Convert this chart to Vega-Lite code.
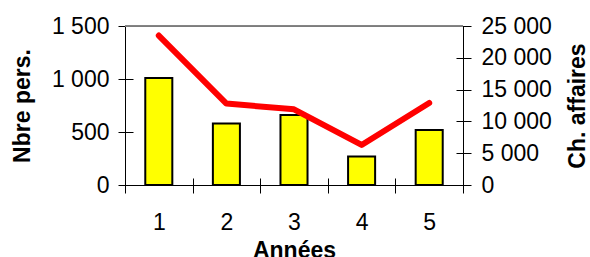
{
  "$schema": "https://vega.github.io/schema/vega-lite/v6.json",
  "width": 338,
  "height": 159,
  "autosize": "none",
  "padding": {"left": 125, "top": 26, "right": 127, "bottom": 72},
  "background": "#ffffff",
  "config": {
    "view": {"stroke": "#000000", "strokeWidth": 1},
    "font": "Liberation Sans",
    "axis": {
      "labelFont": "Liberation Sans",
      "titleFont": "Liberation Sans",
      "labelColor": "#000000",
      "titleColor": "#000000",
      "tickColor": "#000000",
      "tickWidth": 1,
      "labelFontSize": 23,
      "titleFontSize": 23,
      "titleFontWeight": "bold",
      "grid": false,
      "domain": false
    }
  },
  "data": {
    "values": [
      {"annee": "1", "pers": 1010, "ca": 23500},
      {"annee": "2", "pers": 580, "ca": 12800},
      {"annee": "3", "pers": 660, "ca": 11900},
      {"annee": "4", "pers": 270, "ca": 6300},
      {"annee": "5", "pers": 520, "ca": 12900}
    ]
  },
  "layer": [
    {
      "layer": [
        {
          "mark": {"type": "bar", "fill": "#FFFF00", "stroke": "#000000", "strokeWidth": 2, "width": {"band": 0.4}},
          "encoding": {
            "x": {
              "field": "annee", "type": "ordinal",
              "scale": {"paddingInner": 0, "paddingOuter": 0},
              "axis": {"title": "Années", "labelAngle": 0, "tickBand": "extent", "offset": -7, "tickSize": 15, "labelPadding": 18, "titlePadding": 5}
            },
            "y": {
              "field": "pers", "type": "quantitative",
              "scale": {"domain": [0, 1500], "nice": false},
              "axis": {"title": "Nbre pers.", "values": [0, 500, 1000, 1500], "offset": -8, "tickSize": 15, "labelPadding": 9, "titlePadding": 17,
                       "labelExpr": "replace(format(datum.value, ','), ',', ' ')"}
            }
          }
        },
        {
          "mark": {"type": "rule", "color": "#808080", "strokeWidth": 1},
          "encoding": {"y": {"datum": 1500, "type": "quantitative", "scale": {"domain": [0, 1500], "nice": false}}}
        }
      ]
    },
    {
      "mark": {"type": "line", "color": "#FF0000", "strokeWidth": 6, "strokeCap": "round", "strokeJoin": "round"},
      "encoding": {
        "x": {
          "field": "annee", "type": "ordinal",
          "axis": {"title": "Années", "labelAngle": 0, "tickBand": "extent", "offset": -7, "tickSize": 15, "labelPadding": 18, "titlePadding": 5}
        },
        "y": {
          "field": "ca", "type": "quantitative",
          "scale": {"domain": [0, 25000], "nice": false},
          "axis": {"title": "Ch. affaires", "orient": "right", "values": [0, 5000, 10000, 15000, 20000, 25000], "offset": -7, "tickSize": 15, "labelPadding": 10, "titlePadding": 15, "titleAngle": -90, "titleBaseline": "top",
                   "labelExpr": "replace(format(datum.value, ','), ',', ' ')"}
        }
      }
    }
  ],
  "resolve": {"scale": {"y": "independent"}}
}
